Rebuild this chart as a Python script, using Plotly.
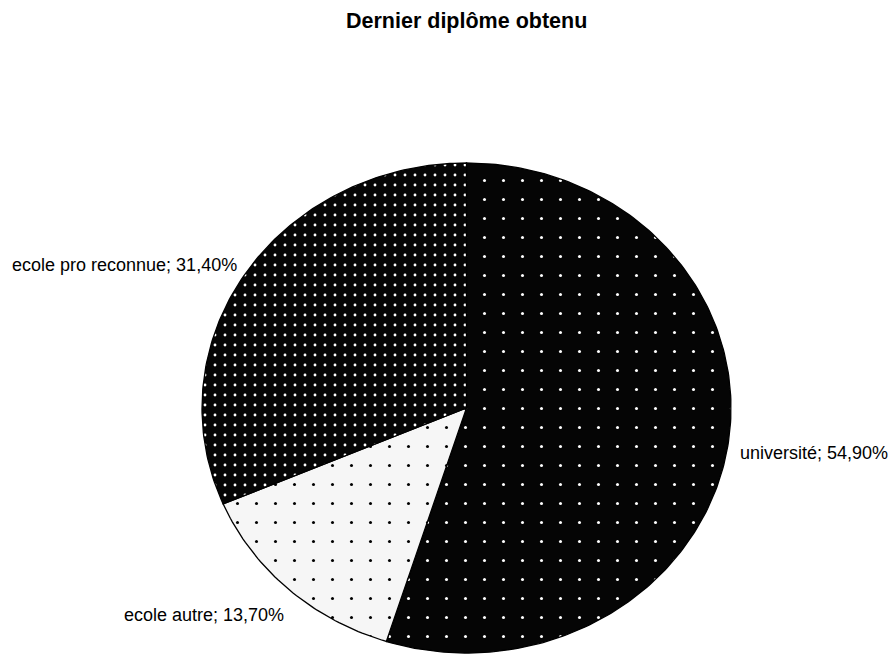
import numpy as np
import plotly.graph_objects as go

# Data
categories = ["université", "ecole autre", "ecole pro reconnue"]
shares = [54.9, 13.7, 31.4]

# Slice fills: background, dot colour, tile size, dot solidity
fills = [
    dict(bg="#050505", fg="#ffffff", size=19, solidity=0.02),
    dict(bg="#f6f6f6", fg="#000000", size=19, solidity=0.02),
    dict(bg="#050505", fg="#ffffff", size=10, solidity=0.065),
]

W, H = 891, 655
cx, cy, rx, ry = 466.5, 408.0, 264.5, 245.0

fig = go.Figure()

total = sum(shares)
start = 0.0
for name, val, f in zip(categories, shares, fills):
    a0 = 2 * np.pi * start / total
    a1 = 2 * np.pi * (start + val) / total
    t = np.linspace(a0, a1, max(int(val * 4), 20))
    xs = np.concatenate([[cx], cx + rx * np.sin(t), [cx]])
    ys = np.concatenate([[cy], cy - ry * np.cos(t), [cy]])
    fig.add_trace(go.Scatter(
        x=xs, y=ys, mode="lines", fill="toself",
        fillcolor=f["bg"],
        fillpattern=dict(shape=".", bgcolor=f["bg"], fgcolor=f["fg"],
                         size=f["size"], solidity=f["solidity"],
                         fillmode="replace"),
        line=dict(color="black", width=1.3),
        hoverinfo="skip", showlegend=False, name=name,
    ))
    start += val

def label(name, val):
    return f"{name}; {val:.2f}%".replace(".", ",")

label_pos = {
    "université": dict(x=738, y=453, xanchor="left"),
    "ecole autre": dict(x=122, y=615, xanchor="left"),
    "ecole pro reconnue": dict(x=10, y=265, xanchor="left"),
}
for name, val in zip(categories, shares):
    p = label_pos[name]
    fig.add_annotation(x=p["x"], y=p["y"], xref="x", yref="y",
                       text=label(name, val), showarrow=False,
                       xanchor=p["xanchor"], yanchor="middle",
                       font=dict(family="Liberation Sans, Arial", size=18, color="black"))

fig.add_annotation(x=466.5, y=21, xref="x", yref="y", text="<b>Dernier diplôme obtenu</b>",
                   showarrow=False, xanchor="center", yanchor="middle",
                   font=dict(family="Liberation Sans, Arial", size=21.5, color="black"))

fig.update_layout(
    width=W, height=H,
    margin=dict(l=0, r=0, t=0, b=0),
    paper_bgcolor="white", plot_bgcolor="white",
    xaxis=dict(range=[0, W], visible=False, fixedrange=True),
    yaxis=dict(range=[H, 0], visible=False, fixedrange=True),
    hovermode=False,
)

fig.write_html("out.html")
